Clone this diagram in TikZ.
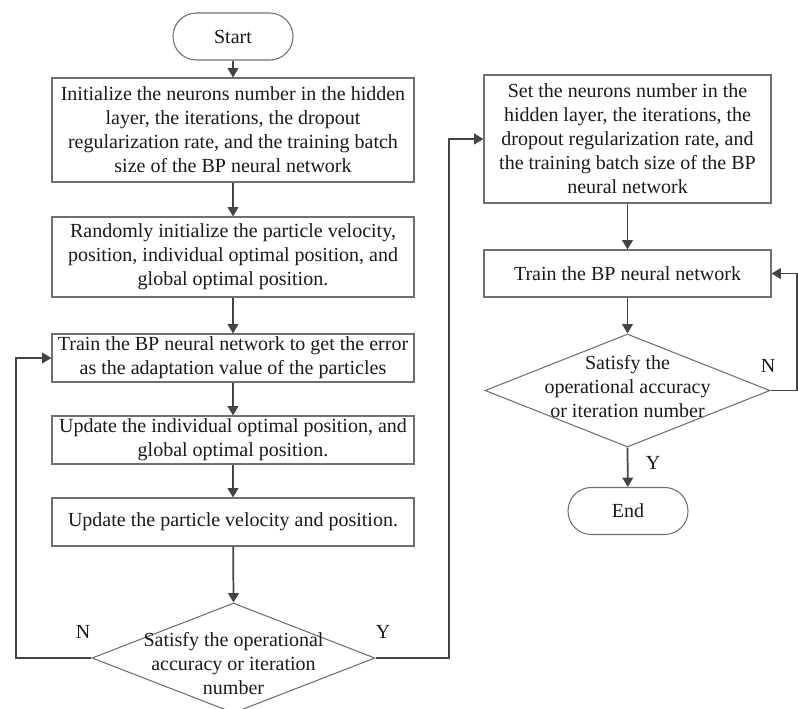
\documentclass[tikz,border=0pt]{standalone}
\usepackage{fontspec}
\setmainfont{Liberation Serif}
\usetikzlibrary{shapes.geometric,arrows.meta}
\definecolor{linecol}{HTML}{444444}
\definecolor{boxcol}{HTML}{707070}
\definecolor{txtcol}{HTML}{1A1A1A}
\begin{document}
\begin{tikzpicture}[x=0.75pt,y=-0.75pt,
  every node/.style={font=\fontsize{15}{18}\selectfont,text=txtcol},
  procbox/.style={draw=boxcol,line width=0.8pt,rectangle,align=center,inner sep=0pt,minimum width=362*0.75pt},
  termbox/.style={draw=boxcol,line width=0.8pt,rectangle,rounded corners=17.5pt,inner sep=0pt,minimum width=120*0.75pt,minimum height=47*0.75pt},
  decbox/.style={draw=boxcol,line width=0.8pt,diamond,inner sep=0pt},
  conn/.style={draw=linecol,line width=1.3pt,-{Triangle[length=7pt,width=8pt]}},
  plainline/.style={draw=linecol,line width=1.3pt},
  lbl/.style={inner sep=0pt}]
\useasboundingbox (0,0) rectangle (798,708);

% left column
\node[termbox] (start) at (233,36.5) {Start};
\node[procbox,minimum height=104*0.75pt] (b1) at (233,130) {Initialize the neurons number in the hidden\\layer, the iterations, the dropout\\regularization rate, and the training batch\\size of the BP neural network};
\node[procbox,minimum height=80*0.75pt] (b2) at (233,257) {Randomly initialize the particle velocity,\\position, individual optimal position, and\\global optimal position.};
\node[procbox,minimum height=48*0.75pt] (b3) at (233,358) {Train the BP neural network to get the error\\as the adaptation value of the particles};
\node[procbox,minimum height=48*0.75pt] (b4) at (233,440) {Update the individual optimal position, and\\global optimal position.};
\node[procbox,minimum height=48*0.75pt] (b5) at (233,522) {Update the particle velocity and position.};
\node[decbox,minimum width=283*0.75pt,minimum height=110*0.75pt] (d1) at (233.5,658) {};
\node[align=center,inner sep=0pt] (d1t) at (233.5,664) {Satisfy the operational\\accuracy or iteration\\number};

% right column
\node[procbox,minimum width=287*0.75pt,minimum height=128*0.75pt] (b6) at (627.5,139) {Set the neurons number in the\\hidden layer, the iterations, the\\dropout regularization rate, and\\the training batch size of the BP\\neural network};
\node[procbox,minimum width=287*0.75pt,minimum height=47*0.75pt] (b7) at (627.5,273.5) {Train the BP neural network};
\node[decbox,minimum width=285*0.75pt,minimum height=113*0.75pt] (d2) at (627.5,390.5) {};
\node[align=center,inner sep=0pt] (d2t) at (627.5,387) {Satisfy the\\operational accuracy\\or iteration number};
\node[termbox] (end) at (628,511) {End};

% connectors left
\draw[conn] (start) -- (b1);
\draw[conn] (b1) -- (b2);
\draw[conn] (b2) -- (b3);
\draw[conn] (b3) -- (b4);
\draw[conn] (b4) -- (b5);
\draw[conn] (b5) -- (d1.north);
\coordinate (nl) at (16,658);
\draw[conn] (d1.west) -- (nl) |- (b3.west);
\coordinate (yr) at (449,658);
\draw[conn] (d1.east) -- (yr) |- (b6.west);

% connectors right
\draw[conn] (b6) -- (b7);
\draw[conn] (b7) -- (d2.north);
\draw[conn] (d2.south) -- (end);
\coordinate (nr) at (797,390.5);
\draw[conn] (d2.east) -- (nr) |- (b7.east);

% labels
\node[lbl] (ln1) at (83,632) {N};
\node[lbl] (ly1) at (383,632) {Y};
\node[lbl] (ln2) at (768,366) {N};
\node[lbl] (ly2) at (653,463) {Y};
\end{tikzpicture}
\end{document}
